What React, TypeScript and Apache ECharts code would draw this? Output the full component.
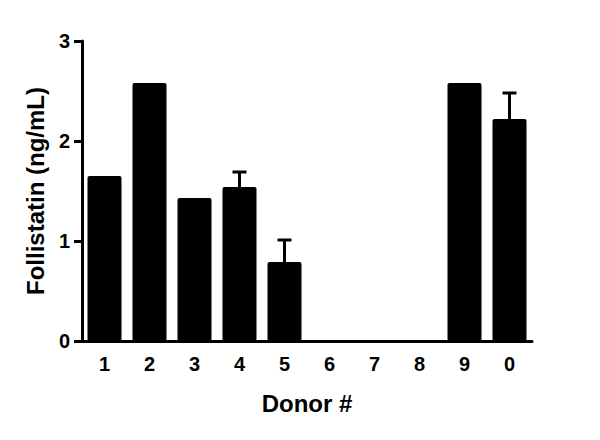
import React, { useEffect, useRef } from "react";
import * as echarts from "echarts";

const donors = ["1", "2", "3", "4", "5", "6", "7", "8", "9", "0"];
const follistatin = [1.65, 2.58, 1.43, 1.54, 0.79, 0, 0, 0, 2.58, 2.22];
// upper end of the error bar (mean + SEM), null where none is drawn
const errorTop = [null, null, null, 1.69, 1.01, null, null, null, null, 2.48];
const yTicks = [0, 1, 2, 3];

const FONT = "'Liberation Sans', Arial, sans-serif";

const App: React.FC = () => {
  const chartRef = useRef<HTMLDivElement>(null);

  useEffect(() => {
    if (!chartRef.current) return;
    const chart = echarts.init(chartRef.current, null, { renderer: "svg" });

    const errData = errorTop
      .map((top, i) => (top == null ? null : [i, follistatin[i], top]))
      .filter((d) => d !== null) as number[][];

    const option = {
      animation: false,
      backgroundColor: "#fff",
      grid: { left: 82, right: 68, top: 41, bottom: 99, containLabel: false },
      xAxis: {
        type: "category",
        data: donors,
        name: "Donor #",
        nameLocation: "middle",
        nameGap: 50,
        nameTextStyle: { fontFamily: FONT, fontWeight: "bold", fontSize: 24, color: "#000" },
        axisLine: { lineStyle: { color: "#000", width: 3 } },
        axisTick: { alignWithLabel: true, length: 7, lineStyle: { color: "#000", width: 3 } },
        axisLabel: { fontFamily: FONT, fontWeight: "bold", fontSize: 20, color: "#000", margin: 13 },
      },
      yAxis: {
        type: "value",
        min: yTicks[0],
        max: yTicks[yTicks.length - 1],
        interval: 1,
        name: "Follistatin (ng/mL)",
        nameLocation: "middle",
        nameGap: 34,
        nameTextStyle: { fontFamily: FONT, fontWeight: "bold", fontSize: 24, color: "#000" },
        axisLine: { show: true, lineStyle: { color: "#000", width: 3 } },
        axisTick: { show: true, length: 8, lineStyle: { color: "#000", width: 3 } },
        axisLabel: { fontFamily: FONT, fontWeight: "bold", fontSize: 20, color: "#000", margin: 12 },
        splitLine: { show: false },
      },
      series: [
        {
          type: "bar",
          data: follistatin,
          barWidth: 34,
          itemStyle: { color: "#000", borderRadius: 2 },
        },
        {
          type: "custom",
          data: errData,
          z: 1,
          renderItem: (_params: any, api: any) => {
            const base = api.coord([api.value(0), api.value(1)]);
            const top = api.coord([api.value(0), api.value(2)]);
            const half = 7;
            const style = { stroke: "#000", lineWidth: 3 };
            return {
              type: "group",
              children: [
                { type: "line", shape: { x1: base[0], y1: base[1], x2: top[0], y2: top[1] }, style },
                { type: "line", shape: { x1: top[0] - half, y1: top[1], x2: top[0] + half, y2: top[1] }, style },
              ],
            };
          },
        },
      ],
    };

    chart.setOption(option);

    return () => {
      chart.dispose();
    };
  }, []);

  return (
    <div
      ref={chartRef}
      style={{ position: "fixed", left: 0, top: 0, width: 600, height: 440 }}
    />
  );
};

export default App;
